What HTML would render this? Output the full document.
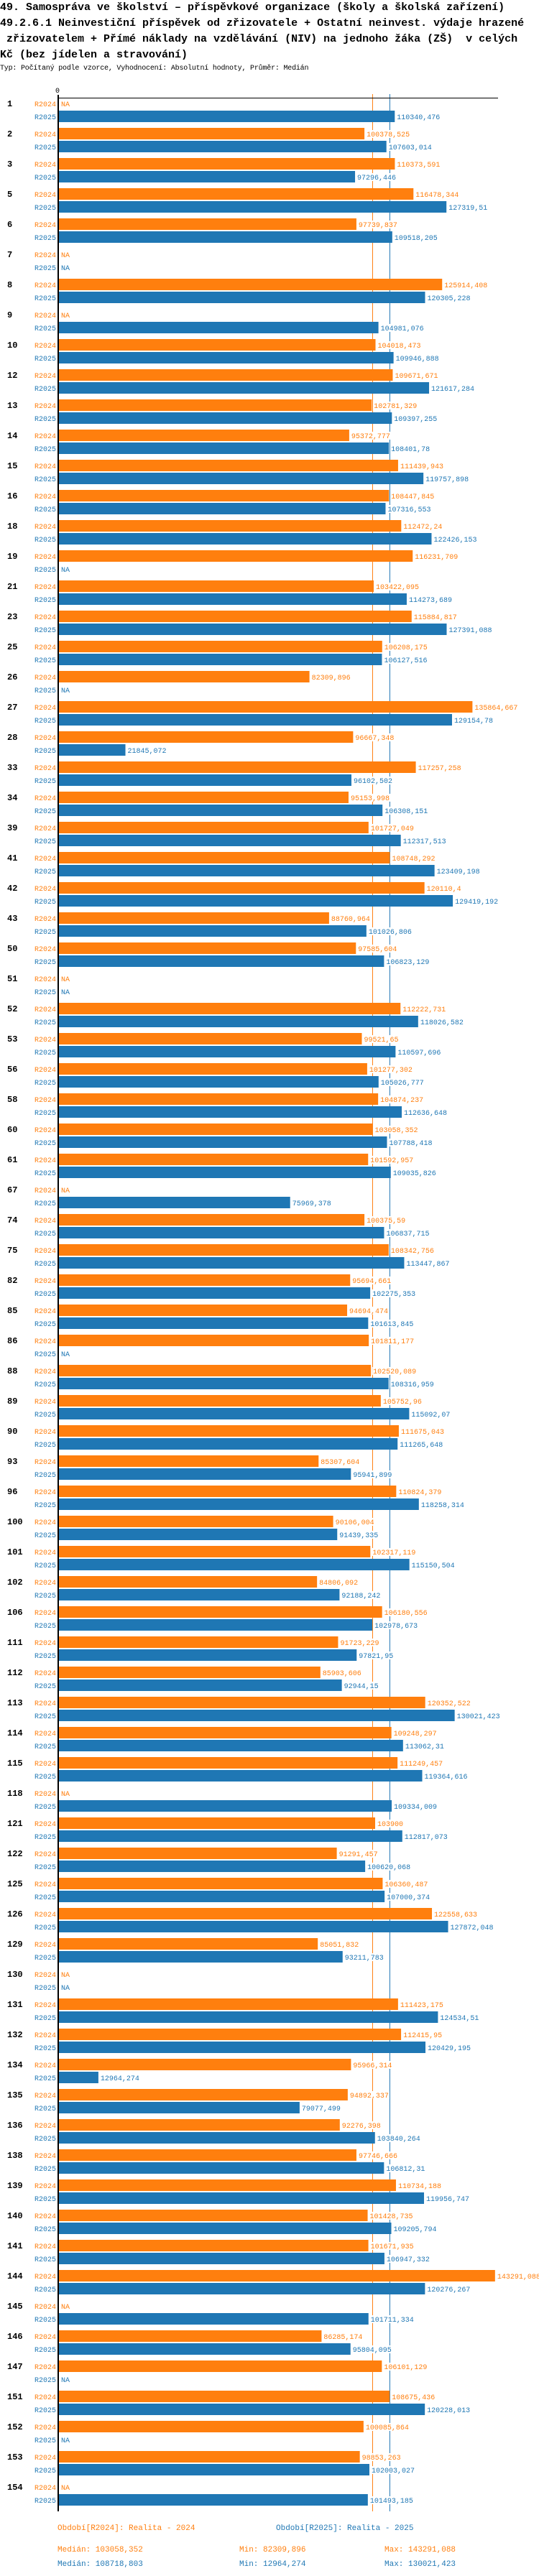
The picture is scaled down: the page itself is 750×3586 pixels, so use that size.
<!DOCTYPE html>
<html><head><meta charset="utf-8">
<style>
html,body{margin:0;padding:0;background:#fff;}
body{width:750px;height:3586px;overflow:hidden;position:relative;font-family:"Liberation Mono",monospace;}
.title{position:absolute;left:0;top:0;margin:0;font:bold 15px/22px "Liberation Mono",monospace;white-space:pre;color:#000;}
.sub{position:absolute;left:0;top:89px;font:10px/14px "Liberation Mono",monospace;white-space:pre;color:#000;letter-spacing:-0.2px;}
svg{position:absolute;left:0;top:0;}
</style></head>
<body>
<div class="title">49. Samospráva ve školství – příspěvkové organizace (školy a školská zařízení)
49.2.6.1 Neinvestiční příspěvek od zřizovatele + Ostatní neinvest. výdaje hrazené
 zřizovatelem + Přímé náklady na vzdělávání (NIV) na jednoho žáka (ZŠ)  v celých
Kč (bez jídelen a stravování)</div>
<div class="sub">Typ: Počítaný podle vzorce, Vyhodnocení: Absolutní hodnoty, Průměr: Medián</div>
<svg id="chart" width="750" height="3586" xmlns="http://www.w3.org/2000/svg"></svg>
<script>
const categories=["1","2","3","5","6","7","8","9","10","12","13","14","15","16","18","19","21","23","25","26","27","28","33","34","39","41","42","43","50","51","52","53","56","58","60","61","67","74","75","82","85","86","88","89","90","93","96","100","101","102","106","111","112","113","114","115","118","121","122","125","126","129","130","131","132","134","135","136","138","139","140","141","144","145","146","147","151","152","153","154"];
const values2024=[null,100378.525,110373.591,116478.344,97739.837,null,125914.408,null,104018.473,109671.671,102781.329,95372.777,111439.943,108447.845,112472.24,116231.709,103422.095,115884.817,106208.175,82309.896,135864.667,96667.348,117257.258,95153.998,101727.049,108748.292,120110.4,88760.964,97585.604,null,112222.731,99521.65,101277.302,104874.237,103058.352,101592.957,null,100375.59,108342.756,95694.661,94694.474,101811.177,102520.089,105752.96,111675.043,85307.604,110824.379,90106.004,102317.119,84806.092,106180.556,91723.229,85903.606,120352.522,109248.297,111249.457,null,103900,91291.457,106360.487,122558.633,85051.832,null,111423.175,112415.95,95966.314,94892.337,92276.398,97746.666,110734.188,101428.735,101671.935,143291.088,null,86285.174,106101.129,108675.436,100085.864,98853.263,null];
const values2025=[110340.476,107603.014,97296.446,127319.51,109518.205,null,120305.228,104981.076,109946.888,121617.284,109397.255,108401.78,119757.898,107316.553,122426.153,null,114273.689,127391.088,106127.516,null,129154.78,21845.072,96102.502,106308.151,112317.513,123409.198,129419.192,101026.806,106823.129,null,118026.582,110597.696,105026.777,112636.648,107788.418,109035.826,75969.378,106837.715,113447.867,102275.353,101613.845,null,108316.959,115092.07,111265.648,95941.899,118258.314,91439.335,115150.504,92188.242,102978.673,97821.95,92944.15,130021.423,113062.31,119364.616,109334.009,112817.073,100620.068,107000.374,127872.048,93211.783,null,124534.51,120429.195,12964.274,79077.499,103840.264,106812.31,119956.747,109205.794,106947.332,120276.267,101711.334,95804.095,null,120228.013,null,102003.027,101493.185];
const seriesNames=["R2024","R2025"];
const medians=[103058.352,108718.803];
const mins=[82309.896,12964.274];
const maxs=[143291.088,130021.423];
const tickLabels=["0"];

const svg=document.getElementById('chart');
const NS='http://www.w3.org/2000/svg';
const ORANGE='#ff7f0e', BLUE='#1f77b4';
const colors=[ORANGE,BLUE];
const x0=82, k=0.004235;
function xScale(v){return x0+v*k;}
const topY=136, rowH=42, barH=16;
function yRow(i){return topY+i*rowH;}
const bottomY=yRow(categories.length);
function mk(tag,attrs,parent){const e=document.createElementNS(NS,tag);for(const a in attrs)e.setAttribute(a,attrs[a]);(parent||svg).appendChild(e);return e;}
function fmt(v){return String(v).replace('.',',');}

medians.forEach((m,s)=>{
  const l=mk('line',{x1:xScale(m),x2:xScale(m),y1:131,y2:bottomY,stroke:colors[s],'stroke-width':1});
  
  
});
const ax=mk('line',{x1:80,x2:693,y1:topY+0.5,y2:topY+0.5,stroke:'#000','stroke-width':1});


tickLabels.forEach(t=>{
  const tt=mk('text',{x:xScale(Number(t))-2,y:129,'font-family':'Liberation Mono, monospace','font-size':10,'text-anchor':'middle',fill:'#000'});
  tt.textContent=t;
  
  
});

categories.forEach((c,i)=>{
  const y=yRow(i);
  const g=mk('g',{});
  
  
  const lab=mk('text',{x:10,y:y+12,'font-family':'Liberation Mono, monospace','font-size':12,'font-weight':'bold',fill:'#000'},g);
  lab.textContent=c;
  
  
  [values2024[i],values2025[i]].forEach((v,s)=>{
    const by=y+s*(barH+2);
    const sl=mk('text',{x:78,y:by+12,'font-family':'Liberation Mono, monospace','font-size':10,'text-anchor':'end',fill:colors[s]},g);
    sl.textContent=seriesNames[s];
    
    
    if(v===null){
      const na=mk('text',{x:85,y:by+12,'font-family':'Liberation Mono, monospace','font-size':10,fill:colors[s]},g);
      na.textContent='NA';
      
      
      return;
    }
    const xe=xScale(v);
    const r=mk('rect',{x:x0,y:by,width:xe-x0,height:barH,fill:colors[s]},g);
    
    
    const txt=fmt(v);
    mk('rect',{x:xe+2,y:by+3,width:txt.length*6+2,height:11,fill:'#fff'},g);
    const vl=mk('text',{x:xe+3,y:by+12,'font-family':'Liberation Mono, monospace','font-size':10,fill:colors[s]},g);
    vl.textContent=txt;
    
    
  });
});
const va=mk('line',{x1:81,x2:81,y1:132,y2:bottomY,stroke:'#000','stroke-width':2});



const legY=3522;
[["Období[R2024]: Realita - 2024",80],["Období[R2025]: Realita - 2025",384]].forEach((d,s)=>{
  const t=mk('text',{x:d[1],y:legY,'font-family':'Liberation Mono, monospace','font-size':11,fill:colors[s]});
  t.textContent=d[0];
  
  
});
[0,1].forEach(s=>{
  const yy=3552+s*20;
  const items=[["Medián: "+fmt(medians[s]),80],["Min: "+fmt(mins[s]),333],["Max: "+fmt(maxs[s]),535]];
  items.forEach(d=>{
    const t=mk('text',{x:d[1],y:yy,'font-family':'Liberation Mono, monospace','font-size':11,fill:colors[s]});
    t.textContent=d[0];
    
    
  });
});
</script>
</body></html>
